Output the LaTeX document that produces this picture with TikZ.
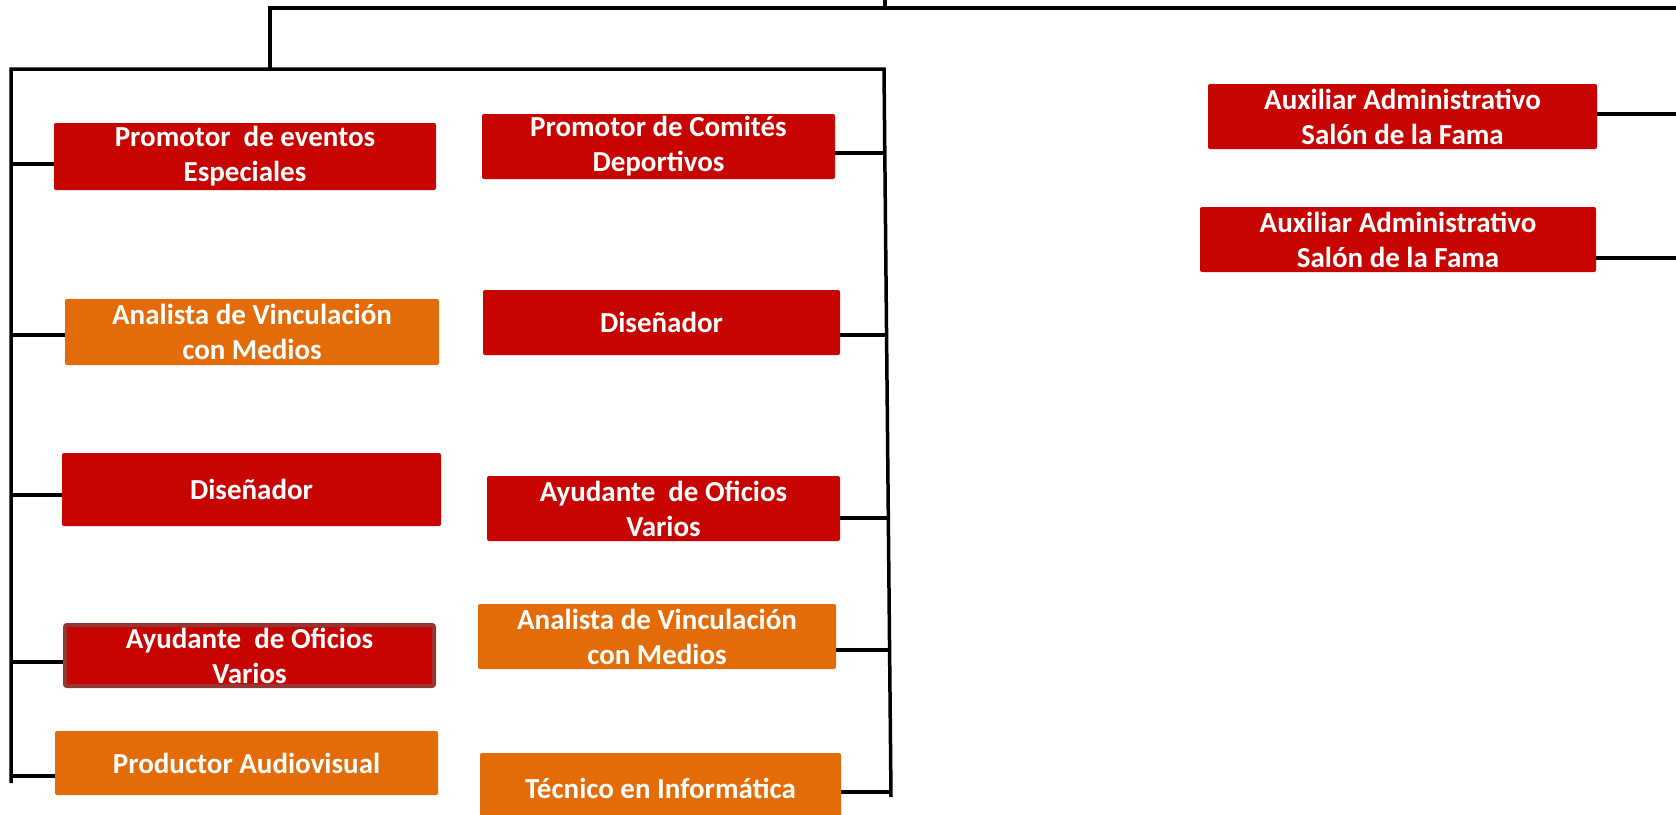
\documentclass[tikz,border=0pt]{standalone}
\usepackage{fontspec}
\setmainfont{Carlito}
\definecolor{jred}{HTML}{C80400}
\definecolor{jorange}{HTML}{E36C09}
\definecolor{jborder}{HTML}{943634}
\tikzset{
  puesto/.style={rounded corners=2pt, text=white, align=center, inner sep=0pt,
    font=\bfseries\fontsize{29}{35}\selectfont},
  rojo/.style={puesto, fill=jred},
  naranja/.style={puesto, fill=jorange},
  linea/.style={line width=3.5pt},
}
\begin{document}
\begin{tikzpicture}[x=1pt, y=-1pt]
\useasboundingbox (0,0) rectangle (1676,814);

\node[rojo, minimum width=382pt, minimum height=67pt] (L1) at (245,156.5) {Promotor~ de eventos\\Especiales};
\node[naranja, minimum width=374pt, minimum height=66pt] (L2) at (252,332) {Analista de Vinculación\\con Medios};
\node[rojo, minimum width=379pt, minimum height=73pt] (L3) at (251.5,489.5) {Diseñador};
\node[rojo, draw=jborder, line width=4pt, minimum width=369pt, minimum height=61pt] (L4) at (249.5,655.5) {Ayudante~ de Oficios\\Varios};
\node[naranja, minimum width=383pt, minimum height=64pt] (L5) at (246.5,763) {Productor Audiovisual};

\node[rojo, minimum width=353pt, minimum height=65pt] (R1) at (658.5,146.5) {Promotor de Comités\\Deportivos};
\node[rojo, minimum width=357pt, minimum height=65pt] (R2) at (661.5,322.5) {Diseñador};
\node[rojo, minimum width=353pt, minimum height=65pt] (R3) at (663.5,508.5) {Ayudante~ de Oficios\\Varios};
\node[naranja, minimum width=358pt, minimum height=65pt] (R4) at (657,636.5) {Analista de Vinculación\\con Medios};
\node[naranja, minimum width=361pt, minimum height=70pt] (R5) at (660.5,788) {Técnico en Informática};

\node[rojo, minimum width=389pt, minimum height=65pt] (A1) at (1402.5,116.5) {Auxiliar Administrativo\\Salón de la Fama};
\node[rojo, minimum width=396pt, minimum height=65pt] (A2) at (1398,239.5) {Auxiliar Administrativo\\Salón de la Fama};

\coordinate (up) at (885,0);
\coordinate (t0) at (270,8);
\coordinate (t1) at (1676,8);
\coordinate (lt) at (11,69);
\coordinate (lb) at (11,783);
\coordinate (rt) at (884,69);
\coordinate (rb) at (891,797);

\coordinate (l1) at (11,164);
\coordinate (l2) at (11,335);
\coordinate (l3) at (11,495);
\coordinate (l4) at (11,662);
\coordinate (l5) at (11,776);
\coordinate (r1) at (885,153);
\coordinate (r2) at (886.5,335);
\coordinate (r3) at (888.5,518);
\coordinate (r4) at (889.5,650);
\coordinate (r5) at (891,792);
\coordinate (a1) at (1676,114);
\coordinate (a2) at (1676,258);

\draw[linea] (up) -- (up |- t0);
\draw[linea] (t1) -- (t0) -- (t0 |- lt);
\draw[linea] (lb) -- (lt) -- (rt) -- (rb);

\draw[linea] (l1) -- (l1 -| L1.west);
\draw[linea] (l2) -- (l2 -| L2.west);
\draw[linea] (l3) -- (l3 -| L3.west);
\draw[linea] (l4) -- (l4 -| L4.west);
\draw[linea] (l5) -- (l5 -| L5.west);
\draw[linea] (r1) -- (r1 -| R1.east);
\draw[linea] (r2) -- (r2 -| R2.east);
\draw[linea] (r3) -- (r3 -| R3.east);
\draw[linea] (r4) -- (r4 -| R4.east);
\draw[linea] (r5) -- (r5 -| R5.east);
\draw[linea] (a1) -- (a1 -| A1.east);
\draw[linea] (a2) -- (a2 -| A2.east);
\end{tikzpicture}
\end{document}
